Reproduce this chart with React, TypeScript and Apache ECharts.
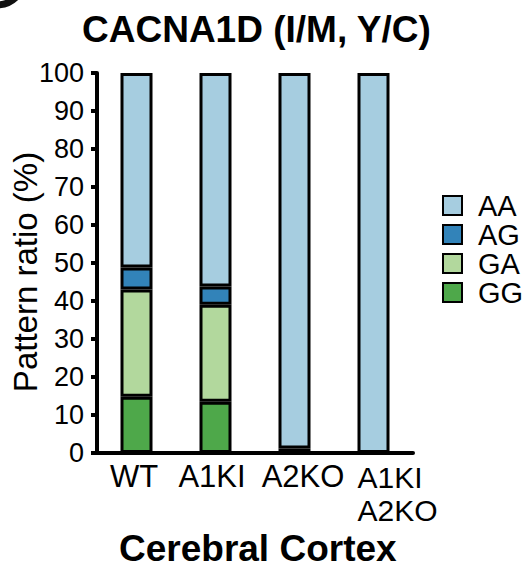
import React, { useEffect, useRef } from "react";
import * as echarts from "echarts";

const categories = ["WT", "A1KI", "A2KO", "A1KI\nA2KO"];
const seriesNames = ["GG", "GA", "AG", "AA"];
const legendOrder = ["AA", "AG", "GA", "GG"];
const valuesGG: (number | string)[] = [14.8, 13.5, 1.2, "-"];
const valuesGA: (number | string)[] = [28.2, 25.5, "-", "-"];
const valuesAG: (number | string)[] = [5.8, 4.8, "-", "-"];
const valuesAA: (number | string)[] = [51.2, 56.2, 98.8, 100];
const colors: Record<string, string> = {
  AA: "#a6cde0",
  AG: "#3283b9",
  GA: "#b2d89d",
  GG: "#4ea84a",
};
const yTicks = { min: 0, max: 100, interval: 10 };

const FONT = "'Liberation Sans', Arial, Helvetica, sans-serif";

export default function App() {
  const ref = useRef<HTMLDivElement>(null);
  useEffect(() => {
    if (!ref.current) return;
    const chart = echarts.init(ref.current, undefined, { renderer: "svg" });
    const dataMap: Record<string, (number | string)[]> = {
      GG: valuesGG,
      GA: valuesGA,
      AG: valuesAG,
      AA: valuesAA,
    };
    const series = seriesNames.map((name) => ({
      name,
      type: "bar",
      stack: "total",
      barWidth: 32,
      data: dataMap[name],
      itemStyle: { color: colors[name], borderColor: "#000", borderWidth: 3 },
    }));
    const lab = { fontFamily: FONT, fontSize: 31, color: "#000", lineHeight: 31 };
    chart.setOption({
      animation: false,
      textStyle: { fontFamily: FONT },
      title: [
        {
          text: "CACNA1D (I/M, Y/C)",
          left: 77,
          top: 6,
          textStyle: { fontFamily: FONT, fontWeight: "bold", fontSize: 37, lineHeight: 36, color: "#000" },
        },
        {
          text: "Cerebral Cortex",
          left: 114,
          top: 528,
          textStyle: { fontFamily: FONT, fontWeight: "bold", fontSize: 37, lineHeight: 30, color: "#000" },
        },
      ],
      legend: {
        data: legendOrder,
        orient: "vertical",
        left: 437,
        top: 186,
        itemWidth: 19,
        itemHeight: 19,
        itemGap: 0,
        icon: "rect",
        textStyle: { fontFamily: FONT, fontSize: 29, lineHeight: 29, color: "#000", padding: [0, 0, 0, 11] },
      },
      grid: { left: 97, right: 113, top: 73, bottom: 114, containLabel: false, outerBoundsMode: "none" },
      xAxis: {
        type: "category",
        data: categories,
        axisLine: { lineStyle: { color: "#000", width: 4 } },
        axisTick: { show: false },
        axisLabel: {
          fontFamily: FONT,
          fontSize: 31,
          color: "#000",
          margin: 8,
          lineHeight: 31,
          interval: 0,
          formatter: (v: string, i: number) => {
            if (v.indexOf("\n") >= 0) {
              return v
                .split("\n")
                .map((p) => "{l|" + p + "}")
                .join("\n");
            }
            const key = i === 0 ? "w" : i === 1 ? "a" : "b";
            return "{" + key + "|" + v + "}";
          },
          rich: {
            w: { ...lab, padding: [0, 5, 0, 0] },
            a: { ...lab, padding: [0, 7, 0, 0] },
            b: { ...lab, padding: [0, 0, 0, 17] },
            l: { ...lab, fontSize: 30, lineHeight: 33, align: "left", padding: [0, 0, 0, 48] },
          },
        },
      },
      yAxis: {
        type: "value",
        min: yTicks.min,
        max: yTicks.max,
        interval: yTicks.interval,
        name: "Pattern ratio (%)",
        nameLocation: "middle",
        nameGap: 55,
        nameMoveOverlap: false,
        nameTextStyle: { fontFamily: FONT, fontSize: 33, color: "#000", padding: [0, 18, 0, 0] },
        axisLine: { show: true, lineStyle: { color: "#000", width: 4 } },
        axisTick: { show: true, length: 6, lineStyle: { color: "#000", width: 4 } },
        axisLabel: { fontFamily: FONT, fontSize: 27, color: "#000", margin: 13 },
        splitLine: { show: false },
      },
      graphic: [
        {
          type: "arc",
          shape: { cx: -3, cy: -22, r: 27, startAngle: 0, endAngle: Math.PI / 2 },
          style: { stroke: "#111", lineWidth: 7, fill: "none" },
        },
      ],
      series,
    });
    return () => chart.dispose();
  }, []);
  return (
    <div
      ref={ref}
      style={{ position: "fixed", left: 0, top: 0, width: 526, height: 567, background: "#fff" }}
    />
  );
}
